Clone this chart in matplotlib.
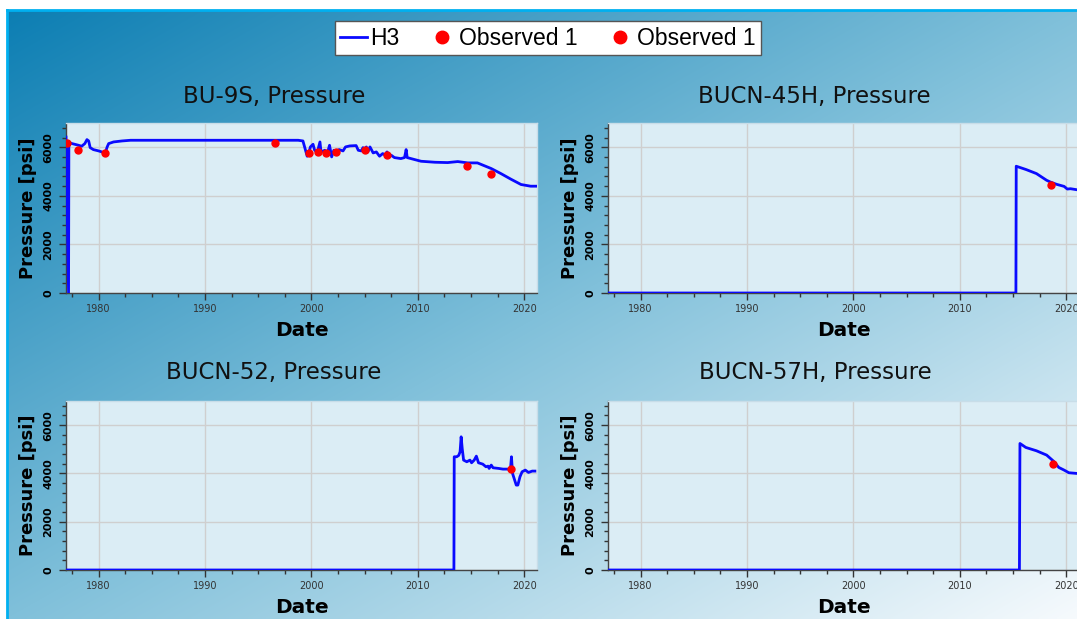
import numpy as np
import matplotlib
matplotlib.use("Agg")
import matplotlib.pyplot as plt
from matplotlib.lines import Line2D
from matplotlib.legend_handler import HandlerLine2D
from matplotlib.ticker import MultipleLocator, FixedLocator

# ---------------- data ----------------
titles = ["BU-9S, Pressure", "BUCN-45H, Pressure", "BUCN-52, Pressure", "BUCN-57H, Pressure"]
legend_labels = ["H3", "Observed 1", "Observed 1"]
x_ticks = [1980, 1990, 2000, 2010, 2020]
y_ticks = [0, 2000, 4000, 6000]

bu9s_t = [1976.93, 1977.17, 1977.2, 1977.5, 1978.1, 1978.4, 1978.7, 1978.9, 1979.06, 1979.2,
          1979.5, 1980.0, 1980.5, 1980.6, 1980.8, 1980.94, 1981.4, 1982.2, 1983.0, 1988.75,
          1998.75, 1999.2, 1999.4, 1999.6, 1999.75, 1999.9, 2000.15, 2000.3, 2000.56, 2000.8,
          2000.9, 2001.25, 2001.5, 2001.7, 2001.9, 2002.1, 2002.3, 2002.6, 2002.97, 2003.2,
          2003.6, 2004.2, 2004.4, 2004.7, 2004.84, 2005.0, 2005.16, 2005.3, 2005.5, 2005.8,
          2006.1, 2006.4, 2006.7, 2006.9, 2007.1, 2007.3, 2007.5, 2007.8, 2008.4, 2008.75,
          2008.9, 2009.0, 2009.7, 2010.3, 2011.6, 2012.8, 2013.75, 2014.7, 2015.6, 2016.9,
          2017.8, 2018.75, 2019.7, 2020.6, 2021.1]
bu9s_p = [6420, 0, 6200, 6152, 6084, 6043, 6152, 6316, 6261, 5987,
          5905, 5850, 5782, 5741, 6015, 6152, 6220, 6261, 6289, 6289,
          6289, 6261, 5946, 5631, 5768, 6015, 6124, 5877, 5809, 6220,
          5809, 5877, 5768, 6083, 5604, 5877, 5809, 5905, 5850, 6015,
          6056, 6070, 5877, 5850, 5987, 5877, 6015, 5809, 6015, 5768,
          5809, 5631, 5741, 5686, 5809, 5604, 5672, 5576, 5535, 5576,
          5905, 5576, 5494, 5425, 5384, 5370, 5412, 5357, 5357, 5124,
          4919, 4686, 4467, 4398, 4398]
bu9s_obs_t = [1977.03, 1978.1, 1980.56, 1996.56, 1999.75, 2000.6, 2001.4, 2002.3, 2005.06, 2007.1, 2014.6, 2016.9]
bu9s_obs_p = [6193, 5905, 5768, 6193, 5768, 5809, 5768, 5809, 5905, 5700, 5247, 4919]

bucn45h_t = [1976.93, 2015.27, 2015.3, 2016.23, 2017.2, 2018.16, 2018.5, 2019.1, 2019.8, 2020.1, 2020.4, 2021.0, 2021.4]
bucn45h_p = [0, 0, 5220, 5083, 4917, 4640, 4571, 4474, 4390, 4280, 4294, 4252, 4240]
bucn45h_obs_t = [2018.55]
bucn45h_obs_p = [4430]

bucn52_t = [1976.93, 2013.39, 2013.42, 2013.65, 2013.84, 2013.97, 2014.07, 2014.17, 2014.3, 2014.6,
            2014.9, 2015.05, 2015.3, 2015.5, 2015.7, 2016.1, 2016.4, 2016.6, 2016.7, 2016.9,
            2017.07, 2017.6, 2018.0, 2018.5, 2018.7, 2018.8, 2018.9, 2019.1, 2019.25, 2019.4,
            2019.6, 2019.8, 2020.1, 2020.4, 2020.75, 2021.0]
bucn52_p = [0, 0, 4690, 4690, 4745, 4897, 5517, 5034, 4552, 4483,
            4552, 4441, 4552, 4717, 4441, 4386, 4276, 4303, 4207, 4345,
            4234, 4207, 4179, 4179, 4138, 4690, 4000, 3724, 3517, 3517,
            3862, 4069, 4138, 4041, 4097, 4097]
bucn52_obs_t = [2018.8]
bucn52_obs_p = [4180]

bucn57h_t = [1976.93, 2015.6, 2015.65, 2016.2, 2017.2, 2018.16, 2018.8, 2019.3, 2019.8, 2020.25, 2021.0, 2021.4]
bucn57h_p = [0, 0, 5241, 5076, 4938, 4759, 4510, 4248, 4138, 4028, 4000, 4000]
bucn57h_obs_t = [2018.8]
bucn57h_obs_p = [4386]

series = [
    (bu9s_t, bu9s_p, bu9s_obs_t, bu9s_obs_p),
    (bucn45h_t, bucn45h_p, bucn45h_obs_t, bucn45h_obs_p),
    (bucn52_t, bucn52_p, bucn52_obs_t, bucn52_obs_p),
    (bucn57h_t, bucn57h_p, bucn57h_obs_t, bucn57h_obs_p),
]

# ---------------- figure ----------------
W, H = 1077, 619
fig = plt.figure(figsize=(W / 100, H / 100), dpi=100, facecolor="white")

# gradient panel background
panel_l, panel_t = 7, 10
bg = fig.add_axes([panel_l / W, 0, 1 - panel_l / W, 1 - panel_t / H], zorder=-10)
gh, gw = 200, 350
yy, xx = np.mgrid[0:gh, 0:gw]
t = (xx / (gw - 1) + yy / (gh - 1)) / 2.0
stops_pos = [0.0, 0.5, 1.0]
stops_col = np.array([[0x0c, 0x7e, 0xb3], [0x80, 0xc0, 0xda], [0xf6, 0xfa, 0xfd]]) / 255.0
img = np.zeros((gh, gw, 3))
for c in range(3):
    img[..., c] = np.interp(t, stops_pos, stops_col[:, c])
bg.imshow(img, aspect="auto", extent=[0, 1, 0, 1], interpolation="bilinear")
bg.set_axis_off()
# cyan border on top and left
fig.add_artist(Line2D([panel_l / W, 1], [1 - panel_t / H, 1 - panel_t / H], color="#00b0f0", lw=2, transform=fig.transFigure))
fig.add_artist(Line2D([panel_l / W, panel_l / W], [0, 1 - panel_t / H], color="#00b0f0", lw=2, transform=fig.transFigure))

# axes boxes in pixels: (left, top, right, bottom)
boxes = [(66, 123, 537, 293), (608, 123, 1079, 293), (66, 401, 537, 570), (608, 401, 1079, 570)]
title_pos = [(274, 96), (814, 96), (274, 373), (815, 373)]

for i, (box, (tt, pp, ot, op)) in enumerate(zip(boxes, series)):
    l, tp, r, b = box
    ax = fig.add_axes([l / W, 1 - b / H, (r - l) / W, (b - tp) / H])
    ax.set_facecolor("#dbedf5")
    ax.plot(tt, pp, color="#0a0aff", lw=2, zorder=3)
    ax.plot(ot, op, ls="none", marker="o", color="red", markersize=5, zorder=4)
    ax.set_xlim(1976.93, 2021.2)
    ax.set_ylim(0, 7000)
    ax.xaxis.set_major_locator(FixedLocator(x_ticks))
    ax.xaxis.set_minor_locator(MultipleLocator(2.5))
    ax.yaxis.set_major_locator(FixedLocator(y_ticks))
    ax.yaxis.set_minor_locator(MultipleLocator(400))
    ax.set_xticklabels([str(v) for v in x_ticks], fontsize=7, color="#333333")
    ax.set_yticklabels([str(v) for v in y_ticks], fontsize=8, fontweight="bold",
                       rotation=90, va="center", color="black")
    ax.tick_params(axis="both", which="major", length=5, width=1, color="#333333", direction="out")
    ax.tick_params(axis="both", which="minor", length=3, width=1, color="#333333", direction="out")
    ax.tick_params(axis="y", pad=4)
    ax.tick_params(axis="x", pad=3)
    ax.grid(True, which="major", color="#cfcfcf", lw=1)
    ax.set_axisbelow(True)
    for s in ["left", "bottom"]:
        ax.spines[s].set_color("#444444")
        ax.spines[s].set_linewidth(1)
    for s in ["top", "right"]:
        ax.spines[s].set_color("#c8dde8")
        ax.spines[s].set_linewidth(1)
    ax.set_xlabel("Date", fontsize=14.5, fontweight="bold", labelpad=5)
    ax.set_ylabel("Pressure [psi]", fontsize=13, fontweight="bold", labelpad=5)
    tx, ty = title_pos[i]
    fig.text(tx / W, 1 - ty / H, titles[i], fontsize=16.5, ha="center", va="center", color="#111111")


class RightMarkerHandler(HandlerLine2D):
    """Places the single legend marker near the right end of the handle box."""
    def get_xdata(self, legend, xdescent, ydescent, width, height, fontsize):
        xdata, _ = super().get_xdata(legend, xdescent, ydescent, width, height, fontsize)
        return xdata, [-xdescent + width - 0.22 * fontsize]


line_h = Line2D([], [], color="#0a0aff", lw=2)
obs_h1 = Line2D([], [], ls="none", marker="o", color="red", markersize=9)
obs_h2 = Line2D([], [], ls="none", marker="o", color="red", markersize=9)
leg = fig.legend([line_h, obs_h1, obs_h2], legend_labels, loc="upper center",
                 bbox_to_anchor=(548 / W, 1 - 21 / H),
                 handler_map={obs_h1: RightMarkerHandler(), obs_h2: RightMarkerHandler()},
                 ncol=3, frameon=True, fancybox=False, framealpha=1, edgecolor="#555555",
                 prop={"family": "Liberation Sans", "size": 16.5}, handlelength=1.15,
                 handletextpad=0.15, columnspacing=1.3, borderpad=0.25, borderaxespad=0)
leg.get_frame().set_linewidth(1)

fig.savefig("out.png", dpi=100, facecolor=fig.get_facecolor())
